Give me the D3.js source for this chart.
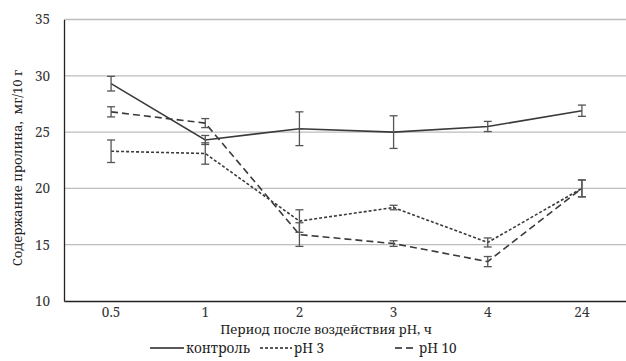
<!DOCTYPE html>
<html><head><meta charset="utf-8">
<script src="https://cdn.jsdelivr.net/npm/d3@7"></script>
<style>body{margin:0;background:#fff}svg{display:block}</style>
</head><body><svg id="c" width="626" height="361"></svg>
<script>
const categories = ["0.5","1","2","3","4","24"];
const control = [29.3,24.3,25.3,25.0,25.5,26.9];
const controlErr = [0.65,0.4,1.5,1.45,0.45,0.5];
const ph3 = [23.3,23.1,17.1,18.3,15.2,20.0];
const ph3Err = [1.0,0.95,1.0,0.2,0.4,0.75];
const ph10 = [26.8,25.8,15.9,15.1,13.5,20.0];
const ph10Err = [0.45,0.4,1.05,0.25,0.45,0.75];
const yTicks = [10,15,20,25,30,35];
const series = [
  {name:"контроль", values:control, err:controlErr, dash:null},
  {name:"pH 3", values:ph3, err:ph3Err, dash:"3,2"},
  {name:"pH 10", values:ph10, err:ph10Err, dash:"7,4"}
];
const FONT = "Noto Serif, DejaVu Serif, serif";
const FS = 13.5, TFS = 13;
const svg = d3.select("#c");
const x = d3.scaleBand().domain(categories).range([64,629]);
const y = d3.scaleLinear().domain([10,35]).range([301,19.5]);
const xc = c => x(c) + x.bandwidth()/2;

// gridlines
svg.append("g").selectAll("line").data(yTicks.filter(t=>t>10)).join("line")
  .attr("x1",64).attr("x2",629).attr("y1",d=>y(d)).attr("y2",d=>y(d))
  .attr("stroke","#bdbdbd").attr("stroke-width",1.3);

// y axis
const ya = svg.append("g").attr("transform","translate(64,0)")
  .call(d3.axisLeft(y).tickValues(yTicks).tickSize(0).tickPadding(14));
ya.selectAll("text").style("font-family",FONT).style("font-size",FS+"px").attr("fill","#333");
ya.select(".domain").attr("stroke","#222").attr("stroke-width",1.3);

// x axis
const xa = svg.append("g").attr("transform","translate(0,301)")
  .call(d3.axisBottom(x).tickSize(0).tickPadding(6));
xa.selectAll("text").style("font-family",FONT).style("font-size",FS+"px").attr("fill","#333");
xa.select(".domain").attr("stroke","#222").attr("stroke-width",1.5);

// lines
const line = d3.line().x((d,i)=>xc(categories[i])).y(d=>y(d));
series.forEach(s=>{
  svg.append("path").datum(s.values).attr("d",line).attr("fill","none")
    .attr("stroke","#3a3a3a").attr("stroke-width",1.6)
    .attr("stroke-dasharray",s.dash);
});
// error bars
series.forEach(s=>{
  const g = svg.append("g").attr("stroke","#555").attr("stroke-width",1.3);
  s.values.forEach((v,i)=>{
    const cx = xc(categories[i]);
    const t = y(v+s.err[i]), b = y(v-s.err[i]);
    g.append("line").attr("x1",cx).attr("x2",cx).attr("y1",t).attr("y2",b);
    g.append("line").attr("x1",cx-4).attr("x2",cx+4).attr("y1",t).attr("y2",t);
    g.append("line").attr("x1",cx-4).attr("x2",cx+4).attr("y1",b).attr("y2",b);
  });
});

// axis titles
svg.append("text").attr("x",326).attr("y",334).attr("text-anchor","middle")
  .style("font-family",FONT).style("font-size",TFS+"px").attr("fill","#222")
  .text("Период после воздействия pH, ч");
svg.append("text").attr("transform","translate(22,168) rotate(-90)").attr("text-anchor","middle")
  .style("font-family",FONT).style("font-size",TFS+"px").attr("fill","#222").style("white-space","pre")
  .text("Содержание пролина,  мг/10 г");

// legend
const legX = [150,260,395];
const legW = [34,32,22];
series.forEach((s,i)=>{
  svg.append("line").attr("x1",legX[i]).attr("x2",legX[i]+legW[i]).attr("y1",348).attr("y2",348)
    .attr("stroke","#222").attr("stroke-width",1.5).attr("stroke-dasharray",s.dash);
  svg.append("text").attr("x",legX[i]+legW[i]+2).attr("y",353)
    .style("font-family",FONT).style("font-size",FS+"px").attr("fill","#222").text(s.name);
});
</script></body></html>
